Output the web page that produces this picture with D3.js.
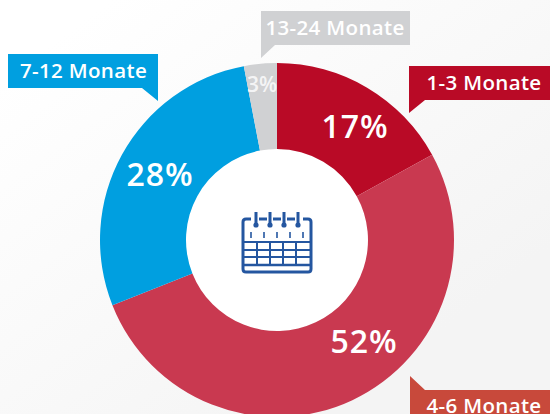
<!DOCTYPE html>
<html>
<head>
<meta charset="utf-8">
<script src="https://cdn.jsdelivr.net/npm/d3@7"></script>
<style>
html,body{margin:0;padding:0;background:#fff;overflow:hidden}
text{font-family:"Open Sans",sans-serif}
</style>
</head>
<body>
<svg id="chart" width="550" height="414"></svg>
<script>
var categories = ["1-3 Monate","4-6 Monate","7-12 Monate","13-24 Monate"];
var values = [17,52,28,3];
var colors = ["#b90a26","#c93950","#009fe0","#d0d1d3"];
var labelColors = ["#b90a26","#c8493b","#009fe0","#d0d1d3"];

var svg = d3.select("#chart");

// soft background
var grad = svg.append("defs").append("linearGradient")
  .attr("id","bg").attr("x1","0").attr("y1","0").attr("x2","1").attr("y2","1");
grad.append("stop").attr("offset","0.1").attr("stop-color","#ffffff");
grad.append("stop").attr("offset","0.8").attr("stop-color","#f4f4f4");
svg.append("rect").attr("width",550).attr("height",414).attr("fill","url(#bg)");

var cx = 277, cy = 240, outer = 177, inner = 91;
var pie = d3.pie().sort(null).value(function(d){return d});
var arc = d3.arc().innerRadius(inner).outerRadius(outer);

var g = svg.append("g").attr("transform","translate("+cx+","+cy+")");
g.append("circle").attr("r",inner).attr("fill","#fff");
g.selectAll("path").data(pie(values)).enter().append("path")
  .attr("d",arc)
  .attr("fill",function(d,i){return colors[i]});

// percent labels, placed by hand like the original
var pctPos = [[355,138,32],[364,353,32],[160,186,32],[262,92,21]];
svg.selectAll(".pct").data(values).enter().append("text")
  .attr("class","pct")
  .attr("x",function(d,i){return pctPos[i][0]})
  .attr("y",function(d,i){return pctPos[i][1]})
  .attr("text-anchor","middle")
  .attr("font-size",function(d,i){return pctPos[i][2]})
  .attr("font-weight",600)
  .attr("letter-spacing",function(d,i){return i==3?0:1})
  .attr("fill","#fff")
  .attr("fill-opacity",function(d,i){return i==3?0.8:1})
  .text(function(d){return d+"%"});

// callouts
var callouts = [
  {d:"M409,66H550V100H425L409,113Z", x:484, y:90},
  {d:"M410,376L425,390H550V414H410Z", x:484, y:413},
  {d:"M8,54H158V101L142,88H8Z", x:83.5, y:78},
  {d:"M261,11H410V45H275L261,58Z", x:335, y:35}
];
callouts.forEach(function(c,i){
  svg.append("path").attr("d",c.d).attr("fill",labelColors[i]);
  svg.append("text").attr("x",c.x).attr("y",c.y)
    .attr("text-anchor","middle")
    .attr("font-size",20.5).attr("font-weight",600)
    .attr("letter-spacing",0.35)
    .attr("fill","#fff").text(categories[i]);
});

// calendar icon
var blue = "#2456a0";
var icon = svg.append("g").attr("fill","none").attr("stroke",blue);
icon.append("path").attr("stroke-width",3)
  .attr("d","M251,219H246Q243,219 243,222V269Q243,272 246,272H308Q311,272 311,269V222Q311,219 308,219H303");
[[259,267],[273,281],[287,295]].forEach(function(s){
  icon.append("line").attr("x1",s[0]).attr("x2",s[1]).attr("y1",219).attr("y2",219).attr("stroke-width",3);
});
[256,270,284,298].forEach(function(x){
  icon.append("line").attr("x1",x).attr("x2",x).attr("y1",212).attr("y2",224).attr("stroke-width",3);
  icon.append("circle").attr("cx",x).attr("cy",225).attr("r",2.6).attr("fill",blue).attr("stroke","none");
});
[251,264,277,290,303].forEach(function(x){
  icon.append("line").attr("x1",x).attr("x2",x).attr("y1",232).attr("y2",238).attr("stroke-width",1.6);
});
[242,250,257,265].forEach(function(y){
  icon.append("line").attr("x1",243).attr("x2",311).attr("y1",y).attr("y2",y).attr("stroke-width",y==265?2.4:2);
});
[257,270,283,296].forEach(function(x){
  icon.append("line").attr("x1",x).attr("x2",x).attr("y1",242).attr("y2",265).attr("stroke-width",2);
});
</script>
</body>
</html>
